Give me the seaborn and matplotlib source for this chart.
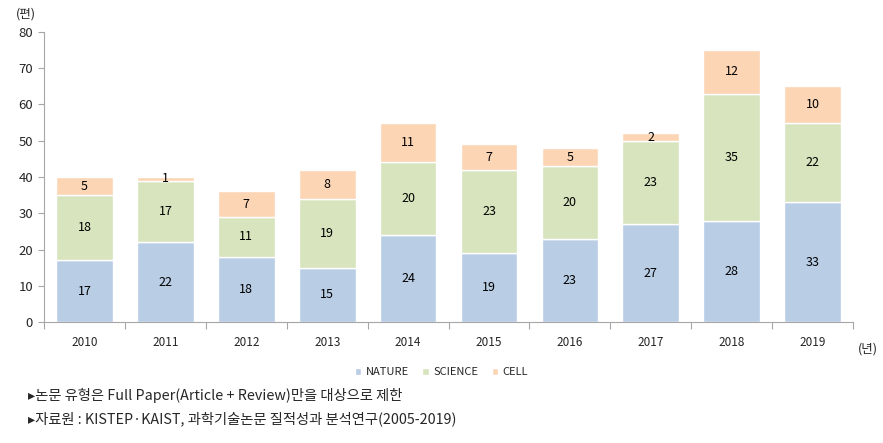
import numpy as np
import pandas as pd
import matplotlib.pyplot as plt
import seaborn as sns

# Data
years = ["2010", "2011", "2012", "2013", "2014", "2015", "2016", "2017", "2018", "2019"]
nature = [17, 22, 18, 15, 24, 19, 23, 27, 28, 33]
science = [18, 17, 11, 19, 20, 23, 20, 23, 35, 22]
cell = [5, 1, 7, 8, 11, 7, 5, 2, 12, 10]

series = ["NATURE", "SCIENCE", "CELL"]
colors = ["#B9CDE5", "#D7E4BD", "#FCD5B5"]

df = pd.DataFrame({"Year": years, "NATURE": nature, "SCIENCE": science, "CELL": cell})

sns.set_style("white")
plt.rcParams["font.family"] = ["Noto Sans CJK KR", "DejaVu Sans"]

fig = plt.figure(figsize=(8.83, 4.43), dpi=100)
ax = fig.add_axes([0.05, 0.273, 0.916, 0.655])

bottom = np.zeros(len(years))
for name, col in zip(series, colors):
    sns.barplot(data=df, x="Year", y=name, color=col, bottom=bottom, width=0.7,
                ax=ax, label=name, saturation=1)
    for i, v in enumerate(df[name]):
        ax.text(i, bottom[i] + v / 2, str(v), ha="center", va="center", fontsize=9, color="#000000")
    bottom = bottom + df[name].values

ax.set_ylim(0, 80)
ax.set_xlim(-0.5, len(years) - 0.5)
ax.set_yticks(range(0, 81, 10))
ax.set_xlabel("")
ax.set_ylabel("")

for s in ["top", "right"]:
    ax.spines[s].set_visible(False)
for s in ["left", "bottom"]:
    ax.spines[s].set_color("#A6A6A6")
    ax.spines[s].set_linewidth(0.8)

ax.tick_params(axis="y", left=True, length=4, width=0.8, color="#A6A6A6", labelsize=9.5, pad=4)
ax.tick_params(axis="x", which="major", bottom=True, length=0, labelsize=8.5, pad=10)
ax.set_xticks(np.arange(-0.5, len(years), 1), minor=True)
ax.tick_params(axis="x", which="minor", bottom=True, length=5, width=0.8, color="#A6A6A6")

fig.text(0.018, 0.968, "(편)", fontsize=9, ha="left", va="center")
fig.text(0.972, 0.213, "(년)", fontsize=9, ha="left", va="center")

handles, labels = ax.get_legend_handles_labels()
if ax.get_legend() is not None:
    ax.get_legend().remove()
fig.legend(handles, labels, loc="center", bbox_to_anchor=(0.5, 0.16), ncol=3, frameon=False,
           fontsize=8, handlelength=0.6, handleheight=0.6, handletextpad=0.4, columnspacing=1.2)

fig.text(0.032, 0.108, "▸논문 유형은 Full Paper(Article + Review)만을 대상으로 제한", fontsize=10.3, ha="left", va="center")
fig.text(0.032, 0.055, "▸자료원 : KISTEP·KAIST, 과학기술논문 질적성과 분석연구(2005-2019)", fontsize=10.3, ha="left", va="center")

fig.savefig("out.png", dpi=100)
